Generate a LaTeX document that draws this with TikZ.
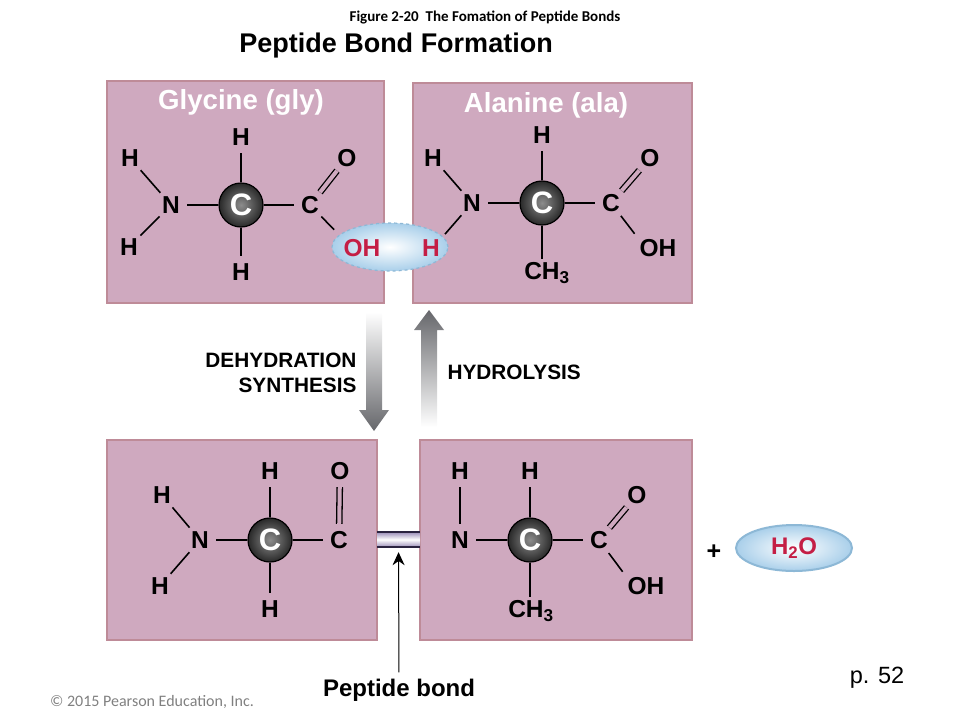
\documentclass[tikz,border=0pt]{standalone}
\usepackage{fontspec}
\setmainfont{Liberation Sans}
\newfontfamily\slidefont{Carlito}
\usetikzlibrary{positioning,shapes.geometric,arrows.meta}

\definecolor{panelfill}{HTML}{CFA9BF}
\definecolor{paneledge}{HTML}{BE8B98}
\definecolor{bubbleedge}{HTML}{8DB8D6}
\definecolor{bubblefill}{HTML}{A9CFEA}
\definecolor{bondred}{HTML}{C41E45}
\definecolor{arrowgray}{HTML}{66676B}
\definecolor{bondfill}{HTML}{9A8DB8}
\definecolor{bondedge}{HTML}{2A2340}

\begin{document}
\begin{tikzpicture}[x=1pt,y=-1pt]
        \tikzstyle{panel}=[draw=paneledge, fill=panelfill, line width=2.5pt]
        \tikzstyle{atom}=[circle, minimum size=32pt, inner sep=0pt, yshift=-1pt, font=\fontsize{24.5}{24}\bfseries\selectfont]
        \tikzstyle{group}=[atom, rectangle, minimum size=0pt, inner sep=3pt]
        \tikzstyle{redatom}=[group, text=bondred]
        \tikzstyle{ball}=[circle, draw=black, line width=1.2pt, minimum size=44pt, inner sep=0pt, yshift=-1pt, inner color=gray!90, outer color=black!84, text=white, font=\fontsize{31}{31}\bfseries\selectfont]
        \tikzstyle{link}=[line width=1.6pt, black]
        \tikzstyle{dbl}=[line width=1.3pt, black, double=panelfill, double distance=4pt]
        \tikzstyle{heading}=[text=white, font=\fontsize{27.6}{27}\bfseries\selectfont]
        \tikzstyle{step label}=[align=right, font=\fontsize{20.8}{25}\bfseries\selectfont]
        \tikzstyle{bubble}=[ellipse, inner sep=0pt, line width=1.2pt]

        \useasboundingbox (0,0) rectangle (960,720);

        % panels
        \draw[panel] (107,81) rectangle (384,303);
        \draw[panel] (413,83) rectangle (692,303);
        \draw[panel] (107,440) rectangle (377,640);
        \draw[panel] (420,440) rectangle (692,640);

        % titles
        \node (figure) at (485,17) [font=\slidefont\fontsize{15}{15}\bfseries\selectfont] {Figure 2-20\ \ The Fomation of Peptide Bonds};
        \node (title) at (396,46) [font=\fontsize{27}{27}\bfseries\selectfont] {Peptide Bond Formation};
        \node (gly) at (241,102) [heading] {Glycine (gly)};
        \node (ala) at (546,105) [heading] {Alanine (ala)};

        % bubble over the gap
        \node (water out) at (390,247) [bubble, draw=bubbleedge, dashed, minimum width=116pt, minimum height=48pt, inner color=white, outer color=bubblefill] {};

        % glycine
        \node (a h1) at (241,136) [atom] {H};
        \node (a h2) at (130,157) [atom] {H};
        \node (a o)  at (347,157) [atom] {O};
        \node (a n)  at (171,204) [atom] {N};
        \node (a b)  at (241,204) [ball] {C};
        \node (a c)  at (310,204) [atom] {C};
        \node (a h3) at (129,246) [atom] {H};
        \node (a h4) at (241,271) [atom] {H};
        \node (a oh) at (362,247) [redatom] {OH};

        \draw[link] (a h1) -- (a b);
        \draw[link] (a h2) -- (a n);
        \draw[link] (a h3) -- (a n);
        \draw[link] (a n) -- (a b);
        \draw[link] (a b) -- (a c);
        \draw[link] (a h4) -- (a b);
        \draw[dbl] (a c) -- (a o);
        \draw[link, shorten >=9pt] (a c) -- (a oh.north west);

        % alanine
        \node (b h1) at (542,134) [atom] {H};
        \node (b h2) at (433,157) [atom] {H};
        \node (b o)  at (650,157) [atom] {O};
        \node (b n)  at (472,202) [atom] {N};
        \node (b b)  at (542,202) [ball] {C};
        \node (b c)  at (611,202) [atom] {C};
        \node (b h3) at (431,247) [redatom] {H};
        \node (b oh) at (658,247) [group] {OH};
        \node (b me) at (547,272) [group] {CH\textsubscript{3}};

        \draw[link] (b h1) -- (b b);
        \draw[link] (b h2) -- (b n);
        \draw[link, shorten >=3pt] (b n) -- (b h3.north east);
        \draw[link] (b n) -- (b b);
        \draw[link] (b b) -- (b c);
        \draw[link] (b b) -- (b b |- b me.north);
        \draw[dbl] (b c) -- (b o);
        \draw[link, shorten >=3pt] (b c) -- (b oh.north west);

        % block arrows
        \shade[top color=white, bottom color=arrowgray] (366,312) -- (382,312) -- (382,410) -- (389,410) -- (374,431) -- (359,410) -- (366,410) -- cycle;
        \shade[top color=arrowgray, bottom color=white] (429,310) -- (444,330) -- (437,330) -- (437,427) -- (421,427) -- (421,330) -- (414,330) -- cycle;
        \node (dehydration) [step label, anchor=east] at (360,373) {DEHYDRATION\\SYNTHESIS};
        \node (hydrolysis) [step label, anchor=west] at (444,372) {HYDROLYSIS};

        % dipeptide, left half
        \node (c h1) at (270,470) [atom] {H};
        \node (c o)  at (340,470) [atom] {O};
        \node (c h2) at (162,494) [atom] {H};
        \node (c n)  at (200,539) [atom] {N};
        \node (c b)  at (270,539) [ball] {C};
        \node (c c)  at (339,539) [atom] {C};
        \node (c h3) at (160,585) [atom] {H};
        \node (c h4) at (270,608) [atom] {H};

        \draw[link] (c h1) -- (c b);
        \draw[link] (c h2) -- (c n);
        \draw[link] (c h3) -- (c n);
        \draw[link] (c n) -- (c b);
        \draw[link] (c b) -- (c c);
        \draw[link] (c h4) -- (c b);
        \draw[dbl] (c c) -- (c o);

        % dipeptide, right half
        \node (d h1) at (460,470) [atom] {H};
        \node (d h2) at (530,470) [atom] {H};
        \node (d o)  at (637,494) [atom] {O};
        \node (d n)  at (460,539) [atom] {N};
        \node (d b)  at (530,539) [ball] {C};
        \node (d c)  at (599,539) [atom] {C};
        \node (d oh) at (646,585) [group] {OH};
        \node (d me) at (531,610) [group] {CH\textsubscript{3}};

        \draw[link] (d h1) -- (d n);
        \draw[link] (d h2) -- (d b);
        \draw[link] (d n) -- (d b);
        \draw[link] (d b) -- (d c);
        \draw[link] (d b) -- (d b |- d me.north);
        \draw[dbl] (d c) -- (d o);
        \draw[link, shorten >=3pt] (d c) -- (d oh.north west);

        % peptide bond
        \node (bond) at (398.5,539.5) [rectangle, minimum width=43pt, minimum height=15pt, inner sep=0pt, top color=bondfill, bottom color=bondfill, middle color=white] {};
        \draw[line width=1.5pt, bondedge] (bond.north west) -- (bond.north east);
        \draw[line width=1.5pt, bondedge] (bond.south west) -- (bond.south east);
        \node (bond label) at (399,690) [font=\fontsize{24}{24}\bfseries\selectfont] {Peptide bond};
        \draw[-{Stealth[length=13pt,width=12pt]}, line width=1pt, shorten <=3pt, shorten >=5pt] (bond label) -- (bond);

        % water
        \node (plus) at (714,552) [font=\fontsize{25}{25}\bfseries\selectfont] {+};
        \node (water) at (794,548) [bubble, draw=bubbleedge, line width=2pt, minimum width=116pt, minimum height=46pt, inner color=white, outer color=bubblefill, text=bondred, font=\fontsize{24}{24}\bfseries\selectfont] {H\textsubscript{2}O};

        % footer
        \node (page) at (877,678) [font=\fontsize{23.5}{24}\selectfont] {p. 52};
        \node (copy) at (152,702) [text=gray, font=\slidefont\fontsize{16}{16}\selectfont] {© 2015 Pearson Education, Inc.};
    \end{tikzpicture}
\end{document}
